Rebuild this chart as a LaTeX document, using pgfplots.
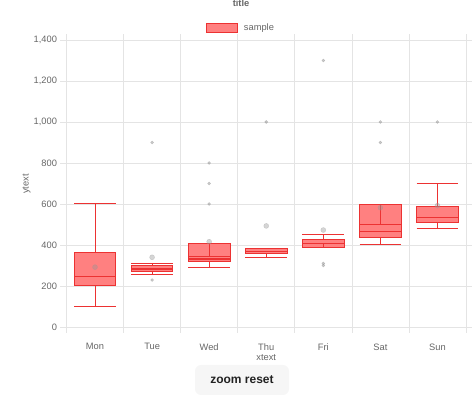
\documentclass[border=0pt]{standalone}
\usepackage{pgfplots}
\pgfplotsset{compat=1.18}
\usepackage{fontspec}
\setmainfont{Liberation Sans}

\definecolor{boxfill}{RGB}{255,128,128}
\definecolor{boxline}{RGB}{236,50,50}
\definecolor{gridc}{RGB}{228,228,228}
\definecolor{labc}{RGB}{102,102,102}
\definecolor{btnc}{RGB}{246,246,246}
\definecolor{dotc}{RGB}{150,150,150}

\begin{document}
\begin{tikzpicture}
\useasboundingbox (0,0) rectangle (474bp,402bp);
\begin{axis}[
  at={(66.5bp,75bp)}, anchor=south west,
  scale only axis, width=399.5bp, height=287bp,
  font=\fontsize{9.3bp}{11bp}\selectfont,
  xmin=-0.5, xmax=6.5, ymin=0, ymax=1400,
  % ticks and grid at the category boundaries, names shifted to the middle
  xtick={-0.5,0.5,...,6.5},
  xticklabels={Mon,Tue,Wed,Thu,Fri,Sat,Sun,{}},
  xticklabel style={xshift=28.54bp, yshift=-7bp},
  ytick={0,200,...,1400},
  grid=major, grid style={gridc, line width=0.7bp},
  axis line style={gridc, line width=0.7bp},
  tick style={gridc, line width=0.7bp},
  tick align=outside, major tick length=6bp,
  tick label style={text=labc},
  /pgf/number format/1000 sep={,},
  /pgf/number format/assume math mode=true,
  xlabel={xtext}, ylabel={ytext},
  xlabel style={at={(0.5,-0.106)}, anchor=center, text=labc},
  ylabel style={at={(-0.1,0.498)}, anchor=center, text=labc},
  title={title},
  title style={at={(0.437,1.106)}, anchor=center, text=labc, font=\bfseries\fontsize{9.3bp}{11bp}\selectfont},
  legend image code/.code={\draw[#1] (0bp,-4.6bp) rectangle (31bp,4.6bp); \path (35bp,0bp);},
  legend style={at={(0.437,1.042)}, anchor=center, draw=none, fill=none,
    text=labc, inner sep=0pt},
  unbounded coords=jump,
  boxstyle/.style={draw=boxline, fill=boxfill, line width=0.9bp, mark=none},
  wstyle/.style={draw=boxline, line width=1bp, mark=none},
  mstyle/.style={draw=boxline, line width=1.2bp, mark=none},
]
\addlegendimage{draw=boxline, fill=boxfill, line width=0.8bp}
\addlegendentry{sample}

% boxes from Q1 to Q3
\addplot[boxstyle] coordinates {(-0.365,205) (0.365,205) (0.365,365) (-0.365,365)} -- cycle;
\addplot[boxstyle] coordinates {(0.635,270) (1.365,270) (1.365,298) (0.635,298)} -- cycle;
\addplot[boxstyle] coordinates {(1.635,320) (2.365,320) (2.365,408) (1.635,408)} -- cycle;
\addplot[boxstyle] coordinates {(2.635,361) (3.365,361) (3.365,385) (2.635,385)} -- cycle;
\addplot[boxstyle] coordinates {(3.635,389) (4.365,389) (4.365,429) (3.635,429)} -- cycle;
\addplot[boxstyle] coordinates {(4.635,437) (5.365,437) (5.365,600) (4.635,600)} -- cycle;
\addplot[boxstyle] coordinates {(5.635,509) (6.365,509) (6.365,587) (5.635,587)} -- cycle;

% medians
\addplot[mstyle] coordinates {(-0.365,245) (0.365,245)};
\addplot[mstyle] coordinates {(0.635,283) (1.365,283)};
\addplot[mstyle] coordinates {(1.635,332) (2.365,332)};
\addplot[mstyle] coordinates {(2.635,370) (3.365,370)};
\addplot[mstyle] coordinates {(3.635,408) (4.365,408)};
\addplot[mstyle] coordinates {(4.635,465) (5.365,465)};
\addplot[mstyle] coordinates {(5.635,535) (6.365,535)};

% whisker stems (and the stems that show inside some boxes)
\addplot[wstyle] coordinates {(0,100) (0,205) (0,nan) (0,365) (0,600)};
\addplot[wstyle] coordinates {(1,255) (1,270) (1,nan) (1,298) (1,311)};
\addplot[wstyle] coordinates {(2,291) (2,320) (2,nan) (2,344) (2,408)};
\addplot[wstyle] coordinates {(3,340) (3,361)};
\addplot[wstyle] coordinates {(4,389) (4,408) (4,nan) (4,429) (4,450)};
\addplot[wstyle] coordinates {(5,400) (5,437) (5,nan) (5,501) (5,600)};
\addplot[wstyle] coordinates {(6,481) (6,509) (6,nan) (6,587) (6,700)};

% whisker caps and inner lines
\addplot[wstyle] coordinates {(-0.365,100) (0.365,100) (0,nan) (-0.365,600) (0.365,600)};
\addplot[wstyle] coordinates {(0.635,255) (1.365,255) (1,nan) (0.635,311) (1.365,311)};
\addplot[wstyle] coordinates {(1.635,291) (2.365,291) (2,nan) (1.635,344) (2.365,344)};
\addplot[wstyle] coordinates {(2.635,340) (3.365,340)};
\addplot[wstyle] coordinates {(3.635,450) (4.365,450)};
\addplot[wstyle] coordinates {(4.635,400) (5.365,400) (5,nan) (4.635,501) (5.365,501)};
\addplot[wstyle] coordinates {(5.635,481) (6.365,481) (6,nan) (5.635,700) (6.365,700)};

% means
\addplot[only marks, mark=*, mark size=2.5bp, color=dotc,
  mark options={fill=dotc, draw=dotc, fill opacity=0.4, draw opacity=0.4}]
  coordinates {(0,292) (1,340) (2,416) (3,493) (4,473) (5,582) (6,592)};
% outliers
\addplot[only marks, mark=*, mark size=1.5bp, color=dotc,
  mark options={fill=dotc, draw=dotc, fill opacity=0.5, draw opacity=0.5}]
  coordinates {(1,229) (1,900) (2,600) (2,700) (2,800) (3,1000)
               (4,300) (4,310) (4,1300) (5,900) (5,1000) (6,1000)};
\end{axis}
\node[fill=btnc, rounded corners=6bp, minimum width=94bp, minimum height=30bp,
  text={rgb,255:red,34;green,34;blue,34}, font=\bfseries\fontsize{12bp}{14bp}\selectfont]
  at (242bp,22bp) {zoom reset};
\end{tikzpicture}
\end{document}
